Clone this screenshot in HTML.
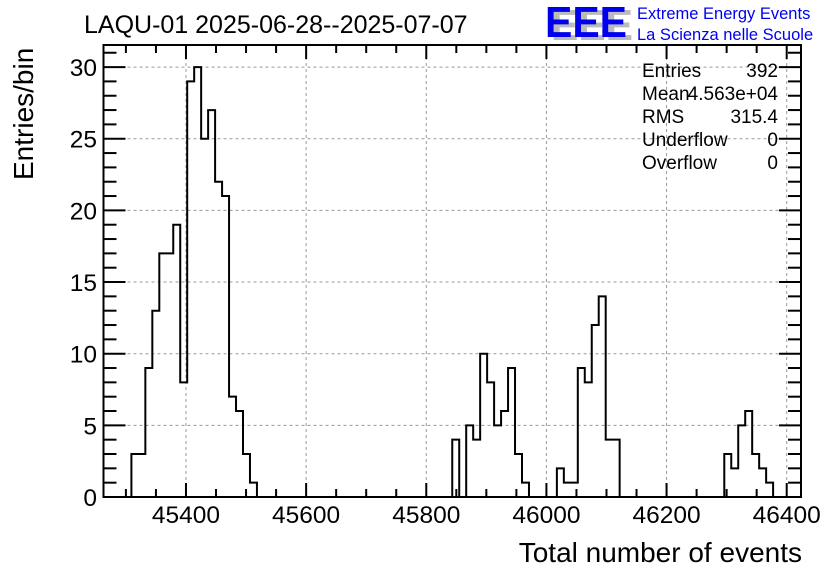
<!DOCTYPE html>
<html><head><meta charset="utf-8"><style>
html,body{margin:0;padding:0;background:#fff;}
svg{display:block;font-family:"Liberation Sans",Arial,sans-serif;}
</style></head><body>
<svg id="chart" width="836" height="572" viewBox="0 0 836 572">
<rect width="836" height="572" fill="#fff"/>
<g id="grid"></g>
<g id="ticks"></g>
<path id="hist" fill="none" stroke="#000" stroke-width="2"/>
<rect x="103.5" y="45" width="697.5" height="452" fill="none" stroke="#000" stroke-width="2"/>
<g id="labels" font-size="24.5"></g>
<text x="84" y="33" font-size="25">LAQU-01 2025-06-28--2025-07-07</text>
<text x="802" y="562" font-size="28" text-anchor="end">Total number of events</text>
<text transform="translate(33,180) rotate(-90)" font-size="28">Entries/bin</text>
<g>
<text x="551" y="40" font-size="44" font-weight="bold" fill="#bbb" textLength="82" lengthAdjust="spacingAndGlyphs">EEE</text>
<text x="545" y="37" font-size="44" font-weight="bold" fill="#0000ee" textLength="82" lengthAdjust="spacingAndGlyphs">EEE</text>
<text x="637" y="19" font-size="16.5" fill="#0000ee">Extreme Energy Events</text>
<text x="637" y="40" font-size="16.5" fill="#0000ee">La Scienza nelle Scuole</text>
</g>
<g font-size="19">
<text x="642" y="77">Entries</text><text x="778" y="77" text-anchor="end">392</text>
<text x="642" y="100">Mean</text><text x="778" y="100" text-anchor="end">4.563e+04</text>
<text x="642" y="123">RMS</text><text x="778" y="123" text-anchor="end">315.4</text>
<text x="642" y="146">Underflow</text><text x="778" y="146" text-anchor="end">0</text>
<text x="642" y="169">Overflow</text><text x="778" y="169" text-anchor="end">0</text>
</g>
</svg>
<script>
const xMin = 45262.7, xMax = 46423.8, yMin = 0, yMax = 31.54;
const binCounts = [0,0,0,0,3,3,9,13,17,17,19,8,29,30,25,27,22,21,7,6,3,1,0,0,0,0,0,0,0,0,
0,0,0,0,0,0,0,0,0,0,0,0,0,0,0,0,0,0,0,0,4,0,5,4,10,8,5,6,9,3,1,0,0,0,0,2,1,1,9,8,
12,14,4,4,0,0,0,0,0,0,0,0,0,0,0,0,0,0,0,3,2,5,6,3,2,1,0,0,0,0];
const xTicks = [45400,45600,45800,46000,46200,46400];
const yTicks = [0,5,10,15,20,25,30];
const L=103.5,R=801,T=45,B=497;
const sx=v=>L+(v-xMin)/(xMax-xMin)*(R-L);
const sy=v=>B-(v-yMin)/(yMax-yMin)*(B-T);
const NS="http://www.w3.org/2000/svg";
function mk(tag,parent,attrs){const e=document.createElementNS(NS,tag);for(const k in attrs)e.setAttribute(k,attrs[k]);parent.appendChild(e);return e;}
const grid=document.getElementById('grid'),ticks=document.getElementById('ticks'),labels=document.getElementById('labels');
xTicks.forEach(v=>{const x=sx(v);
 const g=mk('line',grid,{x1:x,x2:x,y1:T,y2:B,stroke:'#999','stroke-dasharray':'3,3','stroke-width':1});
 
 
 const t=mk('text',labels,{x:x,y:523,'text-anchor':'middle'});t.textContent=v;
 
 
});
yTicks.forEach(v=>{const y=sy(v);
 if(v>0){const g=mk('line',grid,{x1:L,x2:R,y1:y,y2:y,stroke:'#999','stroke-dasharray':'3,3','stroke-width':1});
 
 }
 const t=mk('text',labels,{x:97,y:y+9,'text-anchor':'end'});t.textContent=v;
 
 
});
for(let v=45300;v<=xMax;v+=50){const x=sx(v);const len=(v%200===0)?14:8;
 mk('line',ticks,{x1:x,x2:x,y1:B,y2:B-len,stroke:'#000','stroke-width':2});
 mk('line',ticks,{x1:x,x2:x,y1:T,y2:T+len,stroke:'#000','stroke-width':2});}
for(let v=0;v<=31;v+=1){const y=sy(v);const len=(v%5===0)?22:13;
 mk('line',ticks,{x1:L,x2:L+len,y1:y,y2:y,stroke:'#000','stroke-width':2});
 mk('line',ticks,{x1:R,x2:R-len,y1:y,y2:y,stroke:'#000','stroke-width':2});}
const bw=(xMax-xMin)/binCounts.length;
let d='M'+sx(xMin)+','+sy(0);
binCounts.forEach((c,i)=>{const x0=sx(xMin+i*bw),x1=sx(xMin+(i+1)*bw);d+=' L'+x0+','+sy(c)+' L'+x1+','+sy(c);});
d+=' L'+sx(xMax)+','+sy(0);
document.getElementById('hist').setAttribute('d',d);
</script>
</body></html>
